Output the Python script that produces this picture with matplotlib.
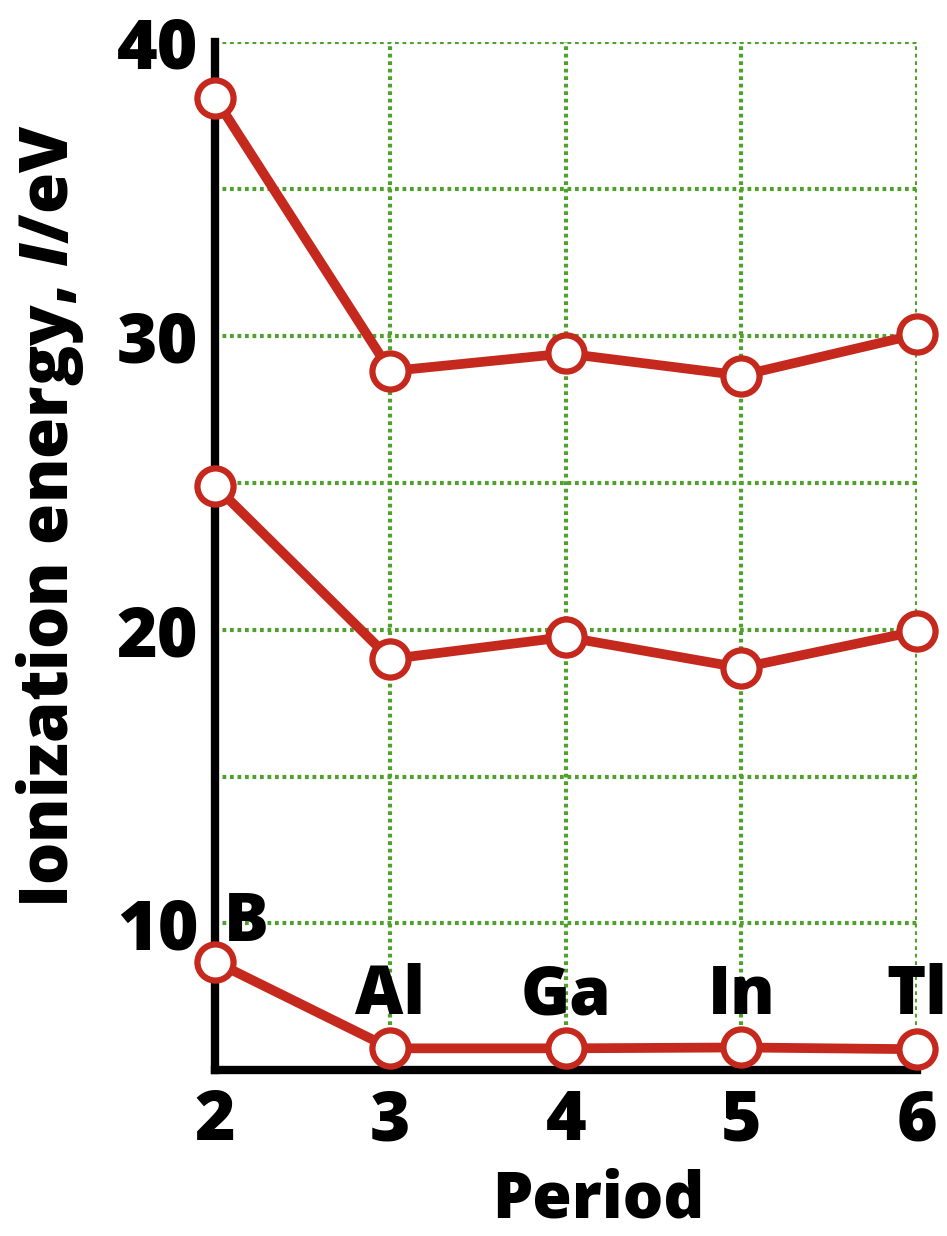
import matplotlib.pyplot as plt

plt.rcParams["font.family"] = ["Open Sans", "DejaVu Sans"]
plt.rcParams["mathtext.fontset"] = "custom"
plt.rcParams["mathtext.it"] = "Open Sans:italic:heavy"
plt.rcParams["mathtext.rm"] = "Open Sans:heavy"

periods = [2, 3, 4, 5, 6]
elements = ["B", "Al", "Ga", "In", "Tl"]
ie_first = [8.7, 5.75, 5.75, 5.78, 5.72]
ie_second = [24.9, 19.0, 19.75, 18.7, 19.95]
ie_third = [38.1, 28.8, 29.4, 28.65, 30.05]

red = "#c5281c"
green = "#4fa12c"
weight = "heavy"

fig = plt.figure(figsize=(9.47, 12.36), dpi=100)
ax = fig.add_axes([0.227, 0.134, 0.741, 0.832])

for series in (ie_first, ie_second, ie_third):
    ax.plot(periods, series, color=red, lw=7, marker="o", ms=26,
            mfc="white", mec=red, mew=4.5, zorder=5, clip_on=False)

ax.set_xlim(2, 6)
ax.set_ylim(5.07, 40)
ax.set_xticks(periods)
ax.set_yticks([5, 10, 15, 20, 25, 30, 35, 40])
ax.set_yticklabels(["", "10", "", "20", "", "30", "", "40"])
ax.grid(True, color=green, ls=(0, (0.9, 0.9)), lw=3, zorder=0)
ax.tick_params(length=0, labelsize=50, pad=12)
for lab in ax.get_xticklabels() + ax.get_yticklabels():
    lab.set_fontweight(weight)

for side in ("top", "right"):
    ax.spines[side].set_visible(False)
for side in ("left", "bottom"):
    ax.spines[side].set_linewidth(6)
    ax.spines[side].set_zorder(4)
    ax.spines[side].set_capstyle("projecting")

ax.text(periods[0] + 0.05, 10.0, elements[0], fontsize=48, fontweight=weight,
        ha="left", va="center", zorder=6)
for p, el in zip(periods[1:], elements[1:]):
    ax.text(p, 7.5, el, fontsize=48, fontweight=weight, ha="center",
            va="center", zorder=6)

fig.text(598 / 947, 1 - 1218 / 1236, "Period", fontsize=46, fontweight=weight,
         ha="center", va="baseline")
fig.text(50 / 947, 1 - 516 / 1236, r"Ionization energy, $\mathit{I}$/eV",
         fontsize=48, fontweight=weight, rotation=90, ha="center", va="center")

fig.savefig("out.png", dpi=100)
